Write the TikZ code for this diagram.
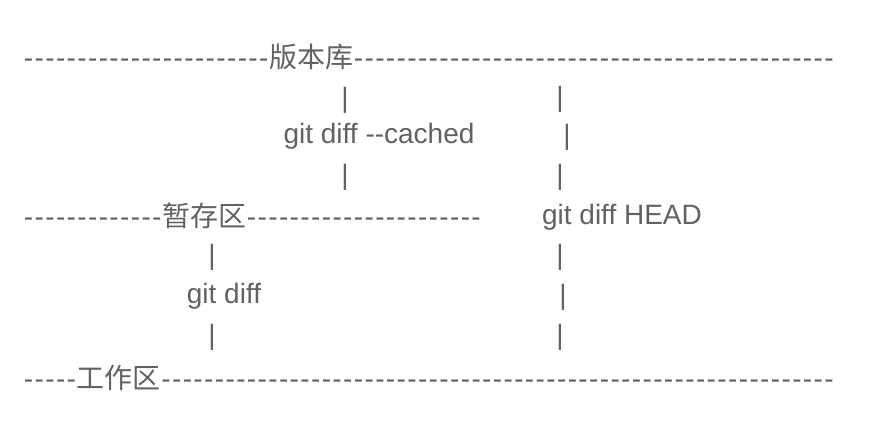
\documentclass[tikz,border=0pt]{standalone}
\usepackage{fontspec}
\setmainfont{Liberation Sans}
\newfontfamily\cjk{Noto Sans CJK SC}
\definecolor{textgray}{RGB}{98,98,98}
% one hyphen of the ascii art, on a fixed pitch
\newcommand{\dashrun}[1]{\foreach \k in {1,...,#1}{\makebox[8.02pt]{-}}}
\tikzset{
  art/.style={inner sep=0pt, text=textgray, font=\fontsize{21pt}{30pt}\selectfont},
  bar/.style={art}
}
\begin{document}
\begin{tikzpicture}[x=0.75pt,y=-0.75pt]
                \useasboundingbox (0,0) rectangle (870,442);
                
                % Drawing line repo
                \node [art, anchor=west] (repo) at (23,57) {\dashrun{23}{\cjk 版本库}\dashrun{45}};%
                
                % Marking bars under repo
                \node [bar] (barA) at (345,100) {|};%
                \node [bar] (barB) at (560,99) {|};%
                
                % Marking text cached
                \node [art] (cached) at (379,136) {git diff -{}-cached};%
                \node [bar] (barC) at (567,137) {|};%
                
                \node [bar] (barD) at (345,177) {|};%
                \node [bar] (barE) at (560,177) {|};%
                
                % Drawing line stage
                \node [art, anchor=west] (stage) at (23,216) {\dashrun{13}{\cjk 暂存区}\dashrun{22}};%
                \node [art] (head) at (622,217) {git diff HEAD};%
                
                % Marking bars under stage
                \node [bar] (barF) at (212,257) {|};%
                \node [bar] (barG) at (560,257) {|};%
                
                % Marking text diff
                \node [art] (diff) at (224,296) {git diff};%
                \node [bar] (barH) at (563,297) {|};%
                
                \node [bar] (barI) at (212,337) {|};%
                \node [bar] (barJ) at (560,337) {|};%
                
                % Drawing line work
                \node [art, anchor=west] (work) at (23,378) {\dashrun{5}{\cjk 工作区}\dashrun{63}};%
                
\end{tikzpicture}
\end{document}
